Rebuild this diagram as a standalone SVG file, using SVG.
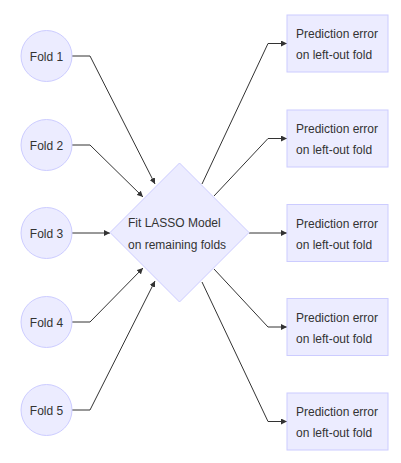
<svg xmlns="http://www.w3.org/2000/svg" width="401" height="463" viewBox="0 0 401 463">
<defs>
<marker id="arr" viewBox="0 0 10 10" refX="10" refY="5" markerWidth="6" markerHeight="6" markerUnits="userSpaceOnUse" orient="auto">
<path d="M0,0 L10,5 L0,10 z" fill="#333"/>
</marker>
</defs>
<style>
.node{fill:#ECECFF;stroke:#CCCCFF;stroke-width:1}
.lbl{font-family:"Liberation Sans",Arial,sans-serif;font-size:12px;fill:#333}
.edge{fill:none;stroke:#333;stroke-width:1;marker-end:url(#arr)}
</style>
<rect width="401" height="463" fill="#fff"/>
<g id="connectors">
<polyline class="edge" points="72,56 90,56 155,184"/>
<polyline class="edge" points="72,145 90,145 143,197"/>
<polyline class="edge" points="72,233 110,233"/>
<polyline class="edge" points="72,322 90,322 143,268"/>
<polyline class="edge" points="72,410 90,410 155,281"/>
<polyline class="edge" points="202,184 268,43.5 287,43.5"/>
<polyline class="edge" points="214,196 268,138.5 287,138.5"/>
<polyline class="edge" points="249,233 287,233"/>
<polyline class="edge" points="214,269 268,327 287,327"/>
<polyline class="edge" points="202,282 268,421.5 287,421.5"/>
</g>
<g id="fold1"><circle class="node" cx="46.5" cy="56" r="25.5"/><text class="lbl" x="46.5" y="61" text-anchor="middle">Fold 1</text></g>
<g id="fold2"><circle class="node" cx="46.5" cy="145" r="25.5"/><text class="lbl" x="46.5" y="150" text-anchor="middle">Fold 2</text></g>
<g id="fold3"><circle class="node" cx="46.5" cy="233" r="25.5"/><text class="lbl" x="46.5" y="238" text-anchor="middle">Fold 3</text></g>
<g id="fold4"><circle class="node" cx="46.5" cy="322" r="25.5"/><text class="lbl" x="46.5" y="327" text-anchor="middle">Fold 4</text></g>
<g id="fold5"><circle class="node" cx="46.5" cy="410" r="25.5"/><text class="lbl" x="46.5" y="415" text-anchor="middle">Fold 5</text></g>
<g id="fit"><polygon class="node" points="179.5,163 249,232.5 179.5,302 110,232.5"/>
<text class="lbl" x="128" y="227">Fit LASSO Model</text>
<text class="lbl" x="128" y="249">on remaining folds</text></g>
<g id="pe1"><rect class="node" x="287" y="15" width="101" height="57"/><text class="lbl" x="296" y="38">Prediction error</text><text class="lbl" x="296" y="59">on left-out fold</text></g>
<g id="pe2"><rect class="node" x="287" y="110" width="101" height="57"/><text class="lbl" x="296" y="133">Prediction error</text><text class="lbl" x="296" y="154">on left-out fold</text></g>
<g id="pe3"><rect class="node" x="287" y="204.5" width="101" height="57"/><text class="lbl" x="296" y="227.5">Prediction error</text><text class="lbl" x="296" y="248.5">on left-out fold</text></g>
<g id="pe4"><rect class="node" x="287" y="298.5" width="101" height="57"/><text class="lbl" x="296" y="321.5">Prediction error</text><text class="lbl" x="296" y="342.5">on left-out fold</text></g>
<g id="pe5"><rect class="node" x="287" y="393" width="101" height="57"/><text class="lbl" x="296" y="416">Prediction error</text><text class="lbl" x="296" y="437">on left-out fold</text></g>
</svg>
